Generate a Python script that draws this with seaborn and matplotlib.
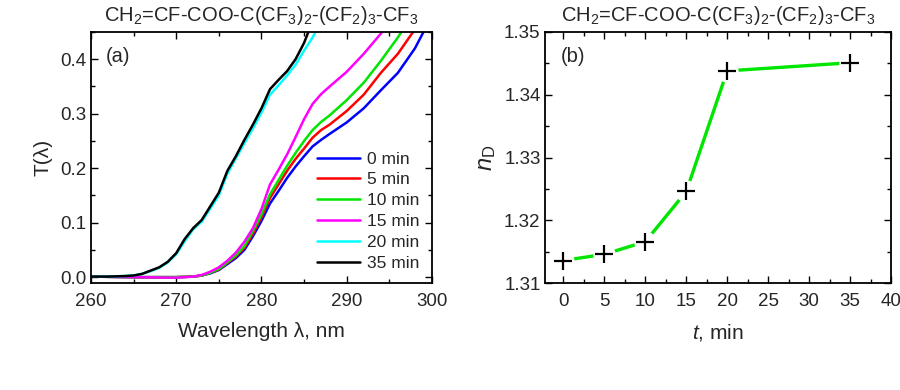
import numpy as np
import pandas as pd
import matplotlib
matplotlib.use("Agg")
import matplotlib.pyplot as plt
import seaborn as sns
from matplotlib.ticker import MultipleLocator

# ---- data ----
# panel (a): transmission spectra; fast group = 20 and 35 min
wl_fast = [260, 262, 264, 265, 266, 267, 268, 269, 270, 271, 272, 273, 274,
           275, 276, 277, 278, 279, 280, 281, 282, 283, 284, 285, 286, 287]
T_35 = [0.001, 0.001, 0.002, 0.003, 0.006, 0.012, 0.018, 0.028, 0.044, 0.070,
        0.090, 0.105, 0.130, 0.155, 0.195, 0.222, 0.252, 0.280, 0.310, 0.345,
        0.362, 0.378, 0.400, 0.430, 0.470, 0.500]
T_20 = [0.001, 0.001, 0.002, 0.003, 0.006, 0.011, 0.017, 0.027, 0.042, 0.066,
        0.088, 0.102, 0.126, 0.150, 0.190, 0.218, 0.246, 0.273, 0.302, 0.335,
        0.352, 0.370, 0.390, 0.416, 0.440, 0.470]

wl_slow = [260, 265, 270, 272, 273, 274, 275, 276, 277, 278, 279, 280, 281,
           282, 283, 284, 285, 286, 287, 288, 290, 292, 294, 296, 298, 300]
T_0 = [0.001, 0.000, 0.000, 0.001, 0.003, 0.007, 0.013, 0.024, 0.035, 0.050,
       0.075, 0.103, 0.135, 0.158, 0.182, 0.203, 0.222, 0.240, 0.252, 0.263,
       0.284, 0.310, 0.343, 0.375, 0.420, 0.480]
T_5 = [0.001, 0.000, 0.000, 0.001, 0.003, 0.008, 0.014, 0.026, 0.038, 0.054,
       0.080, 0.110, 0.145, 0.170, 0.195, 0.217, 0.236, 0.256, 0.270, 0.280,
       0.305, 0.335, 0.375, 0.410, 0.455, 0.500]
T_10 = [0.001, 0.000, 0.000, 0.001, 0.003, 0.008, 0.015, 0.027, 0.040, 0.057,
        0.085, 0.115, 0.152, 0.178, 0.204, 0.228, 0.250, 0.270, 0.285, 0.297,
        0.325, 0.357, 0.397, 0.440, 0.490, 0.530]
T_15 = [0.001, 0.000, -0.001, 0.001, 0.004, 0.010, 0.018, 0.030, 0.045, 0.065,
        0.090, 0.125, 0.170, 0.197, 0.225, 0.257, 0.290, 0.318, 0.336, 0.350,
        0.377, 0.410, 0.447, 0.490, 0.530, 0.570]

labels = ["0 min", "5 min", "10 min", "15 min", "20 min", "35 min"]
colors = ["#0000ff", "#ff0000", "#00e600", "#ff00ff", "#00ffff", "#000000"]

# panel (b): refractive index vs time
t_min = [0, 5, 10, 15, 20, 35]
n_D = [1.3136, 1.3146, 1.3166, 1.3246, 1.3438, 1.3451]

# ---- style ----
sns.set_style("ticks")
plt.rcParams["font.family"] = ["Liberation Sans", "DejaVu Sans"]
plt.rcParams["mathtext.fontset"] = "custom"
plt.rcParams["mathtext.rm"] = "Liberation Sans"
plt.rcParams["mathtext.it"] = "Liberation Sans:italic"
plt.rcParams["xtick.direction"] = "in"
plt.rcParams["ytick.direction"] = "in"

title = r"CH$_2$=CF-COO-C(CF$_3$)$_2$-(CF$_2$)$_3$-CF$_3$"

fig = plt.figure(figsize=(9, 3.9), dpi=100)
ax1 = fig.add_axes([0.101, 0.274, 0.379, 0.644])
ax2 = fig.add_axes([0.606, 0.274, 0.384, 0.644])

# ---- panel (a) ----
series = [(wl_slow, T_0), (wl_slow, T_5), (wl_slow, T_10), (wl_slow, T_15),
          (wl_fast, T_20), (wl_fast, T_35)]
for (x, y), lab, c in zip(series, labels, colors):
    sns.lineplot(x=x, y=y, ax=ax1, color=c, lw=1.8, label=lab, sort=False)

ax1.set_xlim(260, 300)
ax1.set_ylim(-0.011, 0.45)
ax1.xaxis.set_major_locator(MultipleLocator(10))
ax1.xaxis.set_minor_locator(MultipleLocator(5))
ax1.yaxis.set_major_locator(MultipleLocator(0.1))
ax1.yaxis.set_minor_locator(MultipleLocator(0.05))
ax1.set_xlabel("Wavelength λ, nm", fontsize=15, labelpad=9)
ax1.set_ylabel("T(λ)", fontsize=15, labelpad=5)
ax1.set_title(title, fontsize=14.5, pad=8)
ax1.text(0.045, 0.88, "(a)", transform=ax1.transAxes, fontsize=14.5)
leg = ax1.legend(loc="lower right", bbox_to_anchor=(1.0, 0.0), frameon=False,
                 fontsize=12.5, handlelength=2.5, handletextpad=0.4,
                 labelspacing=0.33, borderaxespad=0.3)

# ---- panel (b) ----
df = pd.DataFrame({"t": t_min, "n": n_D})
sns.lineplot(data=df, x="t", y="n", ax=ax2, color="#00e600", lw=2.4)
# white discs give the line gaps around the markers
ax2.plot(df["t"], df["n"], ls="none", marker="o", ms=16, mfc="white",
         mec="none", zorder=3)
ax2.plot(df["t"], df["n"], ls="none", marker="+", ms=13, mew=1.6,
         color="black", zorder=4)

ax2.set_xlim(-2.2, 40)
ax2.set_ylim(1.31, 1.35)
ax2.xaxis.set_major_locator(MultipleLocator(5))
ax2.xaxis.set_minor_locator(MultipleLocator(2.5))
ax2.yaxis.set_major_locator(MultipleLocator(0.01))
ax2.yaxis.set_minor_locator(MultipleLocator(0.005))
ax2.set_xlabel("$t$, min", fontsize=15, labelpad=9)
ax2.set_ylabel("$n$$_\\mathrm{D}$", fontsize=17, labelpad=4)
ax2.set_title(title, fontsize=14.5, pad=8)
ax2.text(0.045, 0.88, "(b)", transform=ax2.transAxes, fontsize=14.5)

for ax in (ax1, ax2):
    ax.tick_params(which="both", top=True, right=True, labelsize=13.5,
                   width=1.0, color="black")
    ax.tick_params(which="major", length=5)
    ax.tick_params(which="minor", length=3)
    ax.tick_params(axis="x", which="major", pad=7)
    for s in ax.spines.values():
        s.set_linewidth(1.3)
        s.set_color("black")

fig.savefig("out.png", dpi=100)
